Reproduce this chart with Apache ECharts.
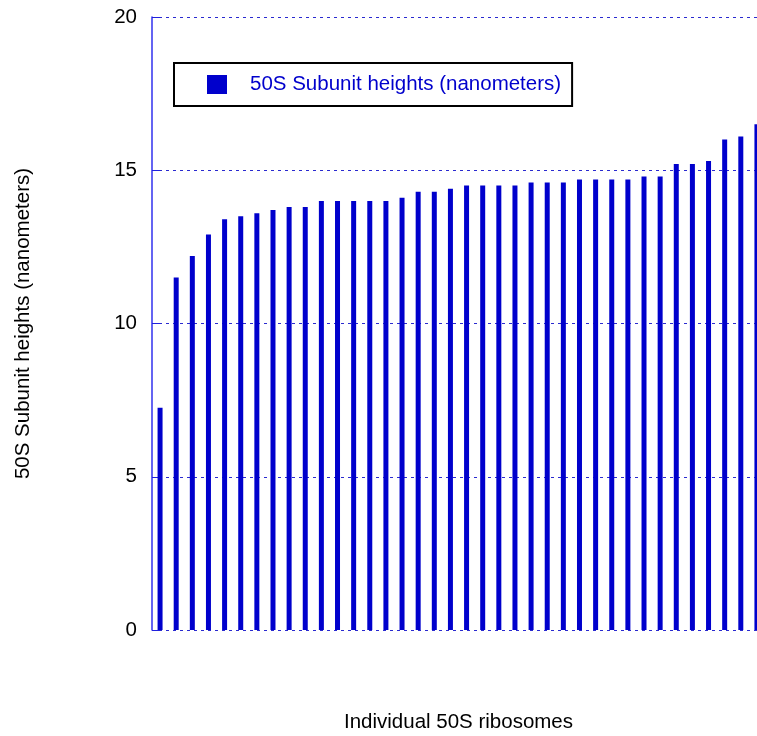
<!DOCTYPE html>
<html>
<head>
<meta charset="utf-8">
<script src="https://cdn.jsdelivr.net/npm/echarts@6/dist/echarts.min.js"></script>
<style>
  html, body { margin: 0; padding: 0; background: #fff; }
  #chart { width: 757px; height: 736px; }
</style>
</head>
<body>
<div id="chart"></div>
<script>
// one bar per ribosome, sorted by height
const ribosomes = ['1', '2', '3', '4', '5', '6', '7', '8', '9', '10',
  '11', '12', '13', '14', '15', '16', '17', '18', '19', '20',
  '21', '22', '23', '24', '25', '26', '27', '28', '29', '30',
  '31', '32', '33', '34', '35', '36', '37', '38'];
const heights = [7.25, 11.5, 12.2, 12.9, 13.4, 13.5, 13.6, 13.7, 13.8, 13.8,
  14.0, 14.0, 14.0, 14.0, 14.0, 14.1, 14.3, 14.3, 14.4, 14.5,
  14.5, 14.5, 14.5, 14.6, 14.6, 14.6, 14.7, 14.7, 14.7, 14.7,
  14.8, 14.8, 15.2, 15.2, 15.3, 16.0, 16.1, 16.5];
const seriesName = '50S Subunit heights (nanometers)';

const blue = '#0000cc';
const font = 'Liberation Sans, Arial, sans-serif';
const fs = 20.5;

let option = {
  animation: false,
  textStyle: { fontFamily: font },
  legend: {
    left: 174,
    top: 63,
    padding: [11, 11, 11, 33],
    borderColor: '#000',
    borderWidth: 2,
    itemWidth: 20,
    itemHeight: 19,
    icon: 'rect',
    data: [seriesName],
    textStyle: {
      color: blue,
      fontSize: fs,
      fontFamily: font,
      padding: [0, 0, 0, 18]
    }
  },
  grid: {
    left: 152,
    top: 17,
    bottom: 106,
    width: 613,  // the last bar is cut by the right edge of the picture
    outerBoundsMode: 'none'
  },
  xAxis: {
    type: 'category',
    data: ribosomes,
    name: 'Individual 50S ribosomes',
    nameLocation: 'middle',
    nameGap: 82,
    nameTextStyle: { color: '#000', fontSize: fs, fontFamily: font },
    axisLine: { show: false },
    axisTick: { show: false },
    axisLabel: { show: false }
  },
  yAxis: {
    type: 'value',
    min: 0,
    max: 20,
    interval: 5,
    name: '50S Subunit heights (nanometers)',
    nameLocation: 'middle',
    nameGap: 118,
    nameTextStyle: { color: '#000', fontSize: fs, fontFamily: font },
    axisLine: { show: true, lineStyle: { color: '#3030ee', width: 1.5 } },
    axisTick: { show: true, inside: true, length: 8, lineStyle: { color: '#2020dd' } },
    axisLabel: { color: '#000', fontSize: fs, margin: 15, fontFamily: font },
    splitLine: {
      show: true,
      lineStyle: { color: '#2a2ad0', type: [3, 4], width: 1.2 }
    }
  },
  series: [
    {
      name: seriesName,
      type: 'bar',
      data: heights,
      barWidth: 5,
      itemStyle: { color: blue }
    }
  ]
};

let myChart = echarts.init(document.getElementById('chart'));
myChart.setOption(option);
</script>
</body>
</html>
